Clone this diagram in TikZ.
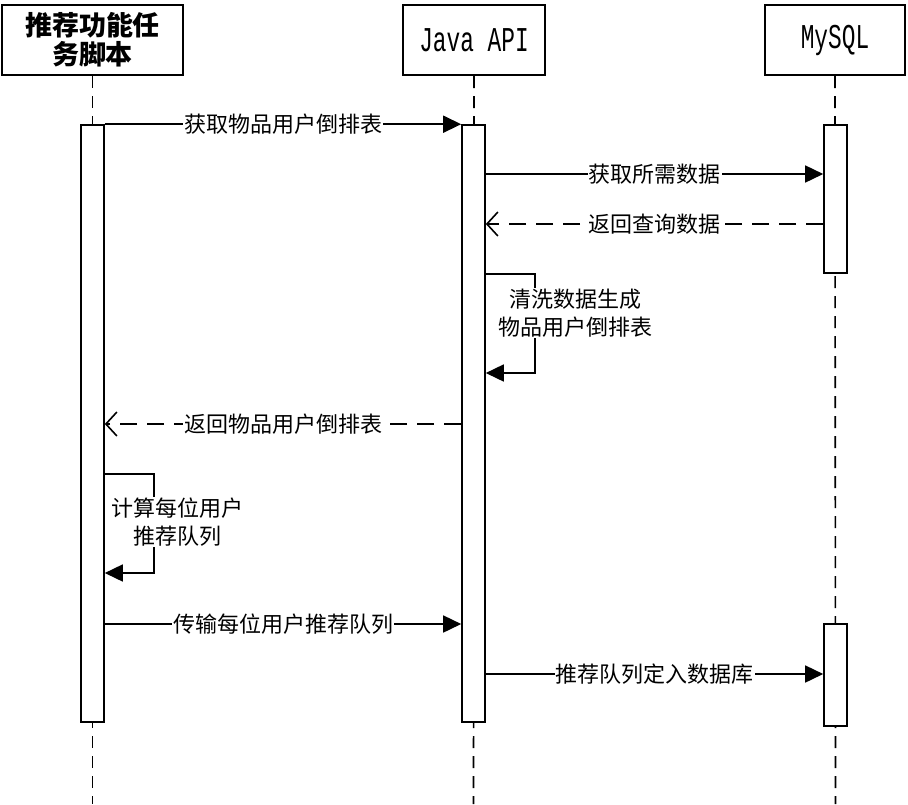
\documentclass[tikz,border=0pt]{standalone}
\usepackage{fontspec}
\newfontfamily\cjk{Noto Sans CJK SC}
\setmonofont{Liberation Mono}
\usetikzlibrary{positioning,arrows.meta}
\tikzset{
    actor/.style={draw, line width=2pt, fill=white, minimum height=70pt,
        inner sep=0pt, align=center},
    bar/.style={draw, line width=1.6pt, fill=white, minimum width=23pt, inner sep=0pt},
    lifeline/.style={line width=1.6pt, dash pattern=on 12pt off 8pt},
    call/.style={line width=1.6pt, -{Triangle[length=18pt,width=17pt]}},
    reply/.style={line width=1.6pt, dash pattern=on 17pt off 10pt,
        -{Straight Barb[length=11pt,width=24pt,line width=1.6pt]}},
    msg/.style={fill=white, inner sep=1pt, font=\cjk\fontsize{22}{28}\selectfont},
    note/.style={fill=white, inner sep=1pt, align=center, font=\cjk\fontsize{22}{28}\selectfont}
}
\newcommand{\tallmono}[1]{\scalebox{0.95}[1.45]{#1}}

\begin{document}
\begin{tikzpicture}[x=1pt, y=-1pt]
\useasboundingbox (0,0) rectangle (908,804);

% participants
\node[actor, minimum width=181pt, font=\cjk\bfseries\fontsize{27}{29}\selectfont] (script) at (92.5,40) {推荐功能任\\务脚本};
\node[actor, minimum width=142pt, font=\ttfamily\fontsize{24}{28}\selectfont] (api) at (474,40) {\tallmono{Java API}};
\node[actor, minimum width=140pt, font=\ttfamily\fontsize{24}{28}\selectfont] (db) at (835,40) {\tallmono{MySQL}};

\coordinate (scriptEnd) at (92.5,804);
\coordinate (apiEnd) at (473.5,804);
\coordinate (dbEnd) at (835.5,804);
\draw[lifeline] (script.south) -- (scriptEnd);
\draw[lifeline] (api.south) -- (apiEnd);
\draw[lifeline] (db.south) -- (dbEnd);

% activations
\node[bar, minimum height=597pt] (scriptBar) at (92.5,423.5) {};
\node[bar, minimum height=597pt] (apiBar) at (473.5,423.5) {};
\node[bar, minimum height=148pt] (dbBar) at (835.5,199) {};
\node[bar, minimum height=102pt] (dbBar2) at (835.5,675) {};

% messages
\draw[call] (scriptBar.north east) -- node[msg] {获取物品用户倒排表} (apiBar.north west);
\draw[call] (apiBar.east |- 0,174) -- node[msg] {获取所需数据} (dbBar.west |- 0,174);
\draw[reply] (dbBar.west |- 0,224) -- node[msg] {返回查询数据} (apiBar.east |- 0,224);

\coordinate (cleanA) at (535,274);
\coordinate (cleanB) at (535,373);
\draw[call] (apiBar.east |- cleanA) -- (cleanA) -- (cleanB) -- (apiBar.east |- cleanB);
\node[note] (clean) at (575,313) {清洗数据生成\\物品用户倒排表};

\draw[reply] (apiBar.west |- 0,424) -- node[msg] {返回物品用户倒排表} (scriptBar.east |- 0,424);

\coordinate (calcA) at (154,474);
\coordinate (calcB) at (154,573);
\draw[call] (scriptBar.east |- calcA) -- (calcA) -- (calcB) -- (scriptBar.east |- calcB);
\node[note] (calc) at (177,522) {计算每位用户\\推荐队列};

\draw[call] (scriptBar.east |- 0,624) -- node[msg] {传输每位用户推荐队列} (apiBar.west |- 0,624);
\draw[call] (apiBar.east |- 0,674) -- node[msg] {推荐队列定入数据库} (dbBar2.west |- 0,674);
\end{tikzpicture}
\end{document}
